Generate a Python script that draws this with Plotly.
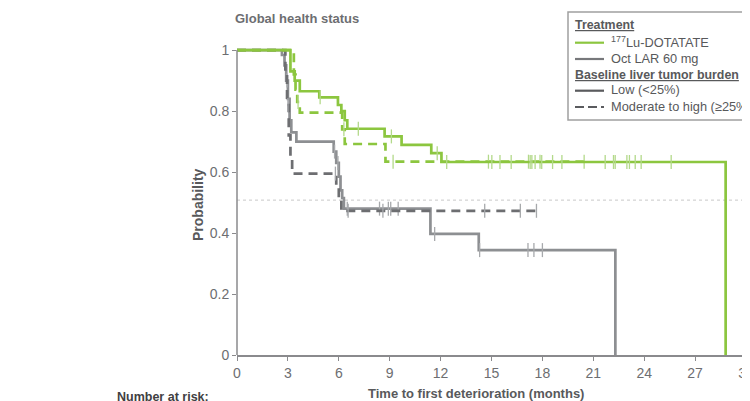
import numpy as np
import plotly.graph_objects as go

# ---------------- data ----------------
lu_low_t = [0, 3.15, 3.4, 3.7, 4.85, 5.95, 6.15, 6.35, 6.5, 8.7, 9.7, 11.45, 12.05, 28.8]
lu_low_s = [1.0, 0.93, 0.90, 0.865, 0.845, 0.82, 0.80, 0.77, 0.742, 0.717, 0.689, 0.662, 0.633, 0.0]
lu_low_c = [4.9, 7.15, 9.1, 11.8, 12.36, 15.02, 15.5, 16.16, 17.28, 17.38, 17.57, 17.96,
            18.6, 19.15, 21.7, 22.19, 22.29, 22.98, 23.13, 23.47, 23.82, 25.59]

lu_mod_t = [0, 3.35, 3.45, 3.55, 3.7, 6.2, 6.35, 8.75, 20.5]
lu_mod_s = [1.0, 0.92, 0.87, 0.83, 0.795, 0.74, 0.692, 0.634, 0.634]
lu_mod_c = [3.6, 6.3, 9.2, 14.82, 17.18, 17.86, 20.46]

oct_low_t = [0, 2.65, 2.8, 2.9, 3.0, 3.1, 3.2, 3.5, 5.7, 5.85, 6.0, 6.1, 6.2, 6.3, 11.4, 14.25, 22.3]
oct_low_s = [1.0, 0.984, 0.95, 0.90, 0.84, 0.77, 0.73, 0.70, 0.667, 0.63, 0.585, 0.54, 0.515, 0.48, 0.397, 0.344, 0.0]
oct_low_c = [2.95, 5.75, 5.95, 6.5, 8.4, 8.92, 9.06, 9.5, 11.65, 14.3, 17.15, 17.5, 18.0]

oct_mod_t = [0, 2.85, 2.95, 3.05, 3.15, 3.25, 5.85, 6.0, 6.15, 17.65]
oct_mod_s = [1.0, 0.92, 0.82, 0.72, 0.65, 0.595, 0.55, 0.51, 0.473, 0.473]
oct_mod_c = [3.0, 5.8, 6.55, 8.6, 14.6, 16.7, 17.65]

x_ticks = [0, 3, 6, 9, 12, 15, 18, 21, 24, 27, 30]
y_ticks = [0, 0.2, 0.4, 0.6, 0.8, 1]
y_tick_labels = ["0", "0.2", "0.4", "0.6", "0.8", "1"]
median_ref = 0.508

title_text = "Global health status"
x_title = "Time to first deterioration (months)"
y_title = "Probability"
risk_text = "Number at risk:"
legend_head1 = "Treatment"
legend_lu = "<sup>177</sup>Lu-DOTATATE"
legend_oct = "Oct LAR 60 mg"
legend_head2 = "Baseline liver tumor burden"
legend_low = "Low (<25%)"
legend_mod = "Moderate to high (≥25%)"

# ---------------- style ----------------
GREEN = "#8cc63f"
GREEN_C = "#b3d98a"
GRAY = "#8d8f92"
GRAY_C = "#a7a9ac"
DGRAY = "#6d6e71"
TXT = "#6d6e71"
NARROW = "Liberation Sans Narrow, Arial Narrow, Liberation Sans, Arial, sans-serif"
SANS = "Liberation Sans, Arial, sans-serif"

OFF = 8  # page body margin offset
W, H = 742, 393
L, R, B, T = 229, 4, 46, 36
YMAX = 1.02
pw = W - L - R
ph = H - T - B


def px_x(px):
    return (px - OFF - L) / pw


def px_y(py):
    return (H - B - (py - OFF)) / ph


def surv_at(times, surv, t):
    i = np.searchsorted(np.asarray(times), t, side="right") - 1
    return surv[i]


fig = go.Figure()


def add_curve(t, s, c, color, ccolor, dash):
    fig.add_trace(go.Scatter(x=t, y=s, mode="lines", line_shape="hv",
                             line=dict(color=color, width=2.7, dash=dash),
                             showlegend=False, hoverinfo="skip"))
    cy = [surv_at(t, s, v) for v in c]
    fig.add_trace(go.Scatter(x=c, y=cy, mode="markers",
                             marker=dict(symbol="line-ns", size=10,
                                         line=dict(color=ccolor, width=1.3)),
                             showlegend=False, hoverinfo="skip"))


add_curve(oct_low_t, oct_low_s, oct_low_c, GRAY, GRAY_C, "solid")
add_curve(oct_mod_t, oct_mod_s, oct_mod_c, DGRAY, GRAY_C, "9px,6px")
add_curve(lu_mod_t, lu_mod_s, lu_mod_c, GREEN, GREEN_C, "9px,6px")
add_curve(lu_low_t, lu_low_s, lu_low_c, GREEN, GREEN_C, "solid")

shapes = []
shapes.append(dict(type="line", xref="paper", yref="y", x0=0, x1=0, y0=0, y1=1,
                   line=dict(color="#8a8a8d", width=1.5)))
shapes.append(dict(type="line", xref="paper", yref="y", x0=0, x1=1.05, y0=median_ref, y1=median_ref,
                   line=dict(color="#c8c8c8", width=1, dash="dot"), layer="below"))
shapes.append(dict(type="rect", xref="paper", yref="paper",
                   x0=px_x(568), x1=px_x(775), y0=px_y(120), y1=px_y(12),
                   line=dict(color="#a0a0a0", width=1.5), fillcolor="white"))
leg_lines = [(42.7, GREEN, "solid"), (59, "#77787b", "solid"), (90.7, "#5a5b5e", "solid"),
             (107, "#5a5b5e", "9px,4px")]
for yy, col, dsh in leg_lines:
    shapes.append(dict(type="line", xref="paper", yref="paper", x0=px_x(575), x1=px_x(604),
                       y0=px_y(yy), y1=px_y(yy), line=dict(color=col, width=2.2, dash=dsh)))

annotations = []


def add_text(px, py, text, size=13, color=TXT, family=SANS, xanchor="left"):
    annotations.append(dict(xref="paper", yref="paper", x=px_x(px), y=px_y(py), text=text,
                            showarrow=False, xanchor=xanchor, yanchor="middle",
                            font=dict(size=size, color=color, family=family)))


add_text(573, 25, "<b><u>" + legend_head1 + "</u></b>", 12.4, "#58595b")
add_text(609, 42, legend_lu, 12.8, "#58595b")
add_text(609, 59, legend_oct, 12.8, "#58595b")
add_text(573, 75, "<b><u>" + legend_head2 + "</u></b>", 12.4, "#58595b")
add_text(609, 90, legend_low, 12.8, "#58595b")
add_text(609, 106, legend_mod, 12.8, "#58595b")

add_text(233, 19, "<b>" + title_text + "</b>", 13, TXT)
add_text(476, 393, "<b>" + x_title + "</b>", 13, "#58595b", NARROW, "center")
add_text(115, 397, "<b>" + risk_text + "</b>", 12.5, "#414042", NARROW)
annotations.append(dict(xref="paper", yref="paper", x=px_x(198), y=px_y(205), text="<b>" + y_title + "</b>",
                        showarrow=False, textangle=-90, xanchor="center", yanchor="middle",
                        font=dict(size=14, color="#58595b", family=NARROW)))

fig.update_layout(
    width=W, height=H,
    margin=dict(l=L, r=R, t=T, b=B, pad=0, autoexpand=False),
    paper_bgcolor="white", plot_bgcolor="white",
    shapes=shapes, annotations=annotations,
    xaxis=dict(range=[0, 30], tickvals=x_ticks, showgrid=False, zeroline=False,
               showline=True, linecolor="#8a8a8d", linewidth=1.5,
               ticks="outside", ticklen=4, tickcolor="#8a8a8d", tickwidth=1,
               ticklabeloverflow="allow", automargin=False,
               tickfont=dict(size=14, color=TXT, family=NARROW)),
    yaxis=dict(range=[0, YMAX], tickvals=y_ticks, ticktext=y_tick_labels, showgrid=False,
               zeroline=False, showline=False, automargin=False,
               ticks="outside", ticklen=4, tickcolor="#8a8a8d", tickwidth=1,
               tickfont=dict(size=14, color=TXT, family=NARROW)),
)

fig.write_html("out.html")
